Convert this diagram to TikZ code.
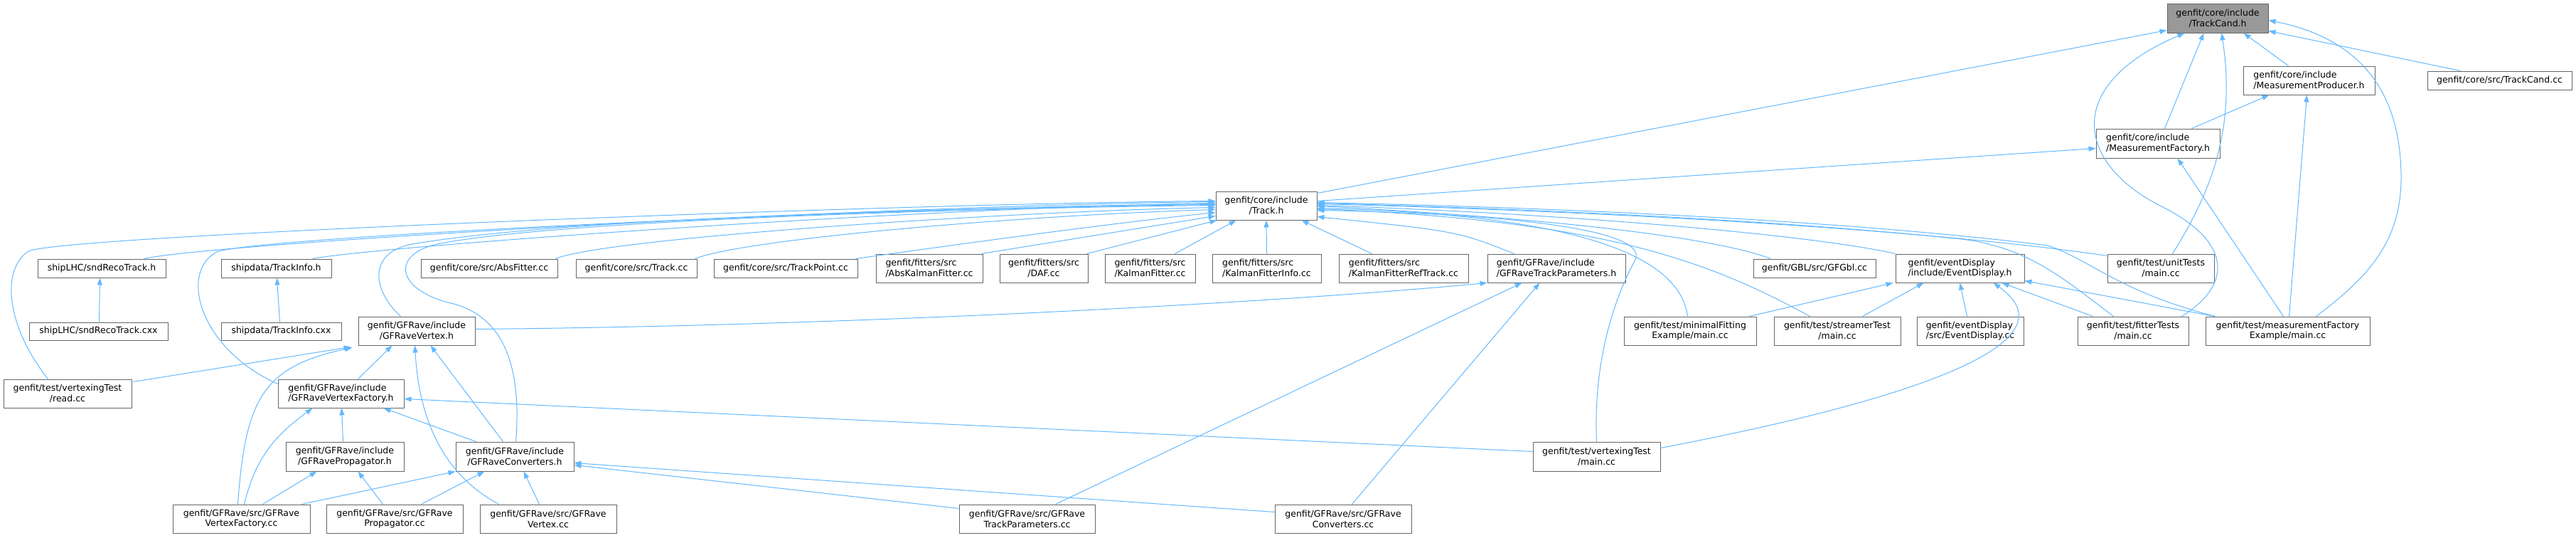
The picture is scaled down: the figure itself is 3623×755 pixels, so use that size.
\documentclass[tikz,border=0pt]{standalone}
\usepackage{fontspec}
\setmainfont{DejaVu Sans}
\usetikzlibrary{calc, arrows.meta}
\definecolor{edgeblue}{RGB}{99,184,255}
\definecolor{boxgrey}{RGB}{102,102,102}
\definecolor{rootgrey}{RGB}{153,153,153}
\tikzset{file/.style={draw=boxgrey, fill=white, line width=1pt, inner sep=0pt, align=center, font=\fontsize{12.5pt}{14.7pt}\selectfont},
  dep/.style={draw=edgeblue, line width=1pt, -{Triangle[length=10pt,width=7pt]}}}
\newcommand\fnode[7][]{\pgfmathsetmacro\bw{#5-#3}\pgfmathsetmacro\bh{#6-#4}\node[file, #1, minimum width=\bw pt, minimum height=\bh pt] (#2) at ({(#3+#5)/2},{(#4+#6)/2}) {#7};}

\begin{document}
\begin{tikzpicture}[x=1pt,y=-1pt]
\useasboundingbox (0,0) rectangle (3623,755);

\fnode[fill=rootgrey]{tc}{3048}{5}{3190}{46}{genfit/core/include\\/TrackCand.h};
\fnode[align=left]{mp}{3155}{93}{3340}{133}{genfit/core/include\\/MeasurementProducer.h};
\fnode{tccc}{3414}{100}{3617}{126}{genfit/core/src/TrackCand.cc};
\fnode[align=left]{mf}{2948}{181}{3122}{222}{genfit/core/include\\/MeasurementFactory.h};
\fnode{trk}{1710}{269}{1852}{309}{genfit/core/include\\/Track.h};

\fnode{snd}{53}{364}{233}{390}{shipLHC/sndRecoTrack.h};
\fnode{tinfo}{311}{364}{466}{390}{shipdata/TrackInfo.h};
\fnode{absfit}{592}{364}{784}{390}{genfit/core/src/AbsFitter.cc};
\fnode{trkcc}{810}{364}{980}{390}{genfit/core/src/Track.cc};
\fnode{tpcc}{1004}{364}{1206}{390}{genfit/core/src/TrackPoint.cc};
\fnode[align=left]{akf}{1232}{357}{1382}{397}{genfit/fitters/src\\/AbsKalmanFitter.cc};
\fnode{daf}{1406}{357}{1530}{397}{genfit/fitters/src\\/DAF.cc};
\fnode[align=left]{kf}{1554}{357}{1681}{397}{genfit/fitters/src\\/KalmanFitter.cc};
\fnode[align=left]{kfi}{1705}{357}{1858}{397}{genfit/fitters/src\\/KalmanFitterInfo.cc};
\fnode[align=left]{kfrt}{1883}{357}{2065}{397}{genfit/fitters/src\\/KalmanFitterRefTrack.cc};
\fnode[align=left]{gtph}{2092}{357}{2286}{397}{genfit/GFRave/include\\/GFRaveTrackParameters.h};
\fnode{gbl}{2466}{364}{2638}{390}{genfit/GBL/src/GFGbl.cc};
\fnode[align=left]{edh}{2666}{357}{2847}{397}{genfit/eventDisplay\\/include/EventDisplay.h};
\fnode{unit}{2964}{357}{3114}{397}{genfit/test/unitTests\\/main.cc};

\fnode{sndcxx}{41}{453}{236}{478}{shipLHC/sndRecoTrack.cxx};
\fnode{ticxx}{311}{453}{480}{478}{shipdata/TrackInfo.cxx};
\fnode{gvh}{504}{445}{668}{485}{genfit/GFRave/include\\/GFRaveVertex.h};
\fnode{minfit}{2284}{445}{2470}{485}{genfit/test/minimalFitting\\Example/main.cc};
\fnode{stream}{2495}{445}{2673}{485}{genfit/test/streamerTest\\/main.cc};
\fnode[align=left]{edcc}{2696}{445}{2846}{485}{genfit/eventDisplay\\/src/EventDisplay.cc};
\fnode{fitt}{2922}{445}{3078}{485}{genfit/test/fitterTests\\/main.cc};
\fnode{mfex}{3102}{445}{3333}{485}{genfit/test/measurementFactory\\Example/main.cc};

\fnode{read}{5}{533}{185}{573}{genfit/test/vertexingTest\\/read.cc};
\fnode[align=left]{gvfh}{391}{533}{568}{573}{genfit/GFRave/include\\/GFRaveVertexFactory.h};
\fnode{gph}{402}{621}{568}{662}{genfit/GFRave/include\\/GFRavePropagator.h};
\fnode{gch}{641}{621}{807}{662}{genfit/GFRave/include\\/GFRaveConverters.h};
\fnode{vmain}{2156}{621}{2335}{662}{genfit/test/vertexingTest\\/main.cc};

\fnode{gvfcc}{243}{709}{436}{749}{genfit/GFRave/src/GFRave\\VertexFactory.cc};
\fnode{gpcc}{459}{709}{651}{749}{genfit/GFRave/src/GFRave\\Propagator.cc};
\fnode{gvcc}{675}{709}{867}{749}{genfit/GFRave/src/GFRave\\Vertex.cc};
\fnode{gtpcc}{1349}{709}{1540}{749}{genfit/GFRave/src/GFRave\\TrackParameters.cc};
\fnode{gccc}{1793}{709}{1985}{749}{genfit/GFRave/src/GFRave\\Converters.cc};

\draw[dep] ($(trk.north east)+(0,3)$) -- ($(tc.south west)+(0,-4)$);
\draw[dep] ($(mf.north west)+(97,0)$) -- ($(tc.south west)+(52,0)$);
\draw[dep] ($(mp.north west)+(64,0)$) -- ($(tc.south east)+(-35,0)$);
\draw[dep] ($(tccc.north west)+(47,0)$) -- ($(tc.south east)+(0,-3)$);
\draw[dep] ($(mfex.north east)+(-76,0)$) .. controls (3330,390) and (3377,340) .. (3377,250) .. controls (3377,110) and (3300,50) .. ($(tc.north east)+(0,24)$);
\draw[dep] ($(fitt.north east)+(-10,0)$) .. controls (3140,400) and (3140,340) .. (3040,290) .. controls (2920,230) and (2900,120) .. ($(tc.south west)+(25,0)$);
\draw[dep] ($(unit.north west)+(92,0)$) .. controls (3110,270) and (3145,180) .. ($(tc.south west)+(77,0)$);

\draw[dep] ($(mf.north west)+(135,0)$) -- ($(mp.south west)+(37,0)$);
\draw[dep] ($(mfex.north west)+(118,0)$) -- ($(mp.south west)+(90,0)$);
\draw[dep] ($(trk.north east)+(0,14)$) -- ($(mf.north west)+(0,28)$);
\draw[dep] ($(mfex.north west)+(110,0)$) -- ($(mf.south west)+(115,0)$);

\draw[dep] ($(read.north west)+(63,0)$) .. controls (10,460) and (0,380) .. (40,353) .. controls (90,330) and (1300,285) .. ($(trk.north west)+(0,14)$);
\draw[dep] ($(snd.north west)+(150,0)$) .. controls (300,342) and (1200,290) .. ($(trk.north west)+(0,15)$);
\draw[dep] ($(tinfo.north west)+(129,0)$) .. controls (540,345) and (1300,292) .. ($(trk.north west)+(0,17)$);
\draw[dep] ($(gvfh.north west)+(0,7)$) .. controls (280,490) and (250,380) .. (307,353) .. controls (400,330) and (1300,290) .. ($(trk.north west)+(0,18)$);
\draw[dep] ($(gvh.north west)+(60,0)$) .. controls (525,410) and (515,355) .. (580,343) .. controls (800,305) and (1400,291) .. ($(trk.north west)+(0,19)$);
\draw[dep] ($(gch.north west)+(85,0)$) .. controls (735,500) and (700,440) .. (630,425) .. controls (555,405) and (550,355) .. (620,342) .. controls (800,308) and (1400,292) .. ($(trk.north west)+(0,20)$);
\draw[dep] ($(absfit.north east)+(-3,0)$) .. controls (850,335) and (1400,298) .. ($(trk.north west)+(0,23)$);
\draw[dep] ($(trkcc.north east)+(-3,0)$) .. controls (1050,335) and (1450,302) .. ($(trk.north west)+(0,26)$);
\draw[dep] ($(tpcc.north east)+(-3,0)$) .. controls (1300,350) and (1550,315) .. ($(trk.north west)+(0,30)$);
\draw[dep] ($(akf.north east)+(-2,0)$) -- ($(trk.north west)+(0,35)$);
\draw[dep] ($(daf.north east)+(-2,0)$) -- ($(trk.south west)+(2,0)$);
\draw[dep] ($(kf.north west)+(99,0)$) -- ($(trk.south west)+(29,0)$);
\draw[dep] (kfi.north) -- (trk.south);
\draw[dep] ($(kfrt.north west)+(47,0)$) -- ($(trk.south east)+(-22,0)$);
\draw[dep] ($(gtph.north west)+(38,0)$) .. controls (2050,325) .. ($(trk.south east)+(0,-5)$);
\draw[dep] ($(gbl.north west)+(25,0)$) .. controls (2400,330) and (2150,305) .. ($(trk.north east)+(0,21)$);
\draw[dep] (edh.north west) .. controls (2550,330) and (2200,300) .. ($(trk.north east)+(0,20)$);
\draw[dep] ($(unit.north west)+(0,3)$) .. controls (2700,320) and (2200,295) .. ($(trk.north east)+(0,18)$);
\draw[dep] ($(minfit.north west)+(90,0)$) .. controls (2360,340) and (2150,300) .. ($(trk.north east)+(0,24)$);
\draw[dep] ($(stream.north west)+(51,0)$) .. controls (2400,365) and (2250,310) .. ($(trk.north east)+(0,25)$);
\draw[dep] ($(fitt.north west)+(51,0)$) .. controls (2900,390) and (2850,345) .. (2750,335) .. controls (2500,310) and (2200,295) .. ($(trk.north east)+(0,17)$);
\draw[dep] ($(mfex.north west)+(14,0)$) .. controls (2980,410) and (2940,365) .. (2880,345) .. controls (2600,310) and (2200,292) .. ($(trk.north east)+(0,16)$);
\draw[dep] ($(vmain.north west)+(90,0)$) .. controls (2240,500) and (2275,410) .. (2300,365) .. controls (2320,320) and (2100,300) .. ($(trk.north east)+(0,27)$);

\draw[dep] ($(minfit.north east)+(-10,0)$) -- ($(edh.south west)+(-3,0)$);
\draw[dep] ($(stream.north west)+(125,0)$) -- ($(edh.south west)+(40,0)$);
\draw[dep] ($(edcc.north west)+(71,0)$) -- ($(edh.south west)+(91,0)$);
\draw[dep] ($(fitt.north west)+(22,0)$) -- ($(edh.south west)+(150,0)$);
\draw[dep] ($(mfex.north west)+(13,0)$) -- ($(edh.south east)+(0,-3)$);
\draw[dep] ($(vmain.north east)+(0,9)$) .. controls (2700,560) and (2920,480) .. ($(edh.south west)+(138,0)$);

\draw[dep] ($(gvh.north east)+(0,18)$) .. controls (1200,458) and (1800,425) .. (gtph.south west);
\draw[dep] ($(gtpcc.north west)+(136,0)$) -- ($(gtph.south west)+(49,0)$);
\draw[dep] ($(gccc.north west)+(109,0)$) -- ($(gtph.south west)+(74,0)$);

\draw[dep] ($(read.north east)+(2,4)$) -- ($(gvh.south west)+(-10,2)$);
\draw[dep] ($(gvfcc.north west)+(92,0)$) .. controls (345,560) and (370,515) .. ($(gvh.south west)+(-8,3)$);
\draw[dep] ($(gvfh.north west)+(113,0)$) -- ($(gvh.south west)+(48,0)$);
\draw[dep] ($(gvcc.north west)+(27,0)$) .. controls (630,670) and (590,600) .. ($(gvh.south west)+(80,0)$);
\draw[dep] ($(gch.north west)+(67,0)$) -- ($(gvh.south west)+(102,0)$);

\draw[dep] ($(gvfcc.north west)+(101,0)$) .. controls (360,640) and (390,610) .. ($(gvfh.south west)+(49,0)$);
\draw[dep] ($(gph.north west)+(81,0)$) -- ($(gvfh.south west)+(90,0)$);
\draw[dep] ($(gch.north west)+(29,0)$) -- ($(gvfh.south east)+(-29,0)$);
\draw[dep] ($(vmain.north west)+(0,14)$) -- ($(gvfh.south east)+(0,-13)$);

\draw[dep] ($(gvfcc.north west)+(127,0)$) -- ($(gph.south west)+(44,0)$);
\draw[dep] ($(gpcc.north west)+(80,0)$) -- ($(gph.south west)+(102,0)$);

\draw[dep] ($(gvfcc.north east)+(-12,0)$) -- (gch.south west);
\draw[dep] ($(gpcc.north west)+(134,0)$) -- ($(gch.south west)+(41,0)$);
\draw[dep] ($(gvcc.north west)+(84,0)$) -- ($(gch.south west)+(96,0)$);
\draw[dep] ($(gtpcc.north west)+(0,6)$) -- ($(gch.south east)+(0,-9)$);
\draw[dep] ($(gccc.north west)+(0,11)$) -- ($(gch.south east)+(0,-12)$);

\draw[dep] ($(sndcxx.north west)+(99,0)$) -- ($(snd.south west)+(88,0)$);
\draw[dep] ($(ticxx.north west)+(83,0)$) -- ($(tinfo.south west)+(79,0)$);
\end{tikzpicture}
\end{document}
